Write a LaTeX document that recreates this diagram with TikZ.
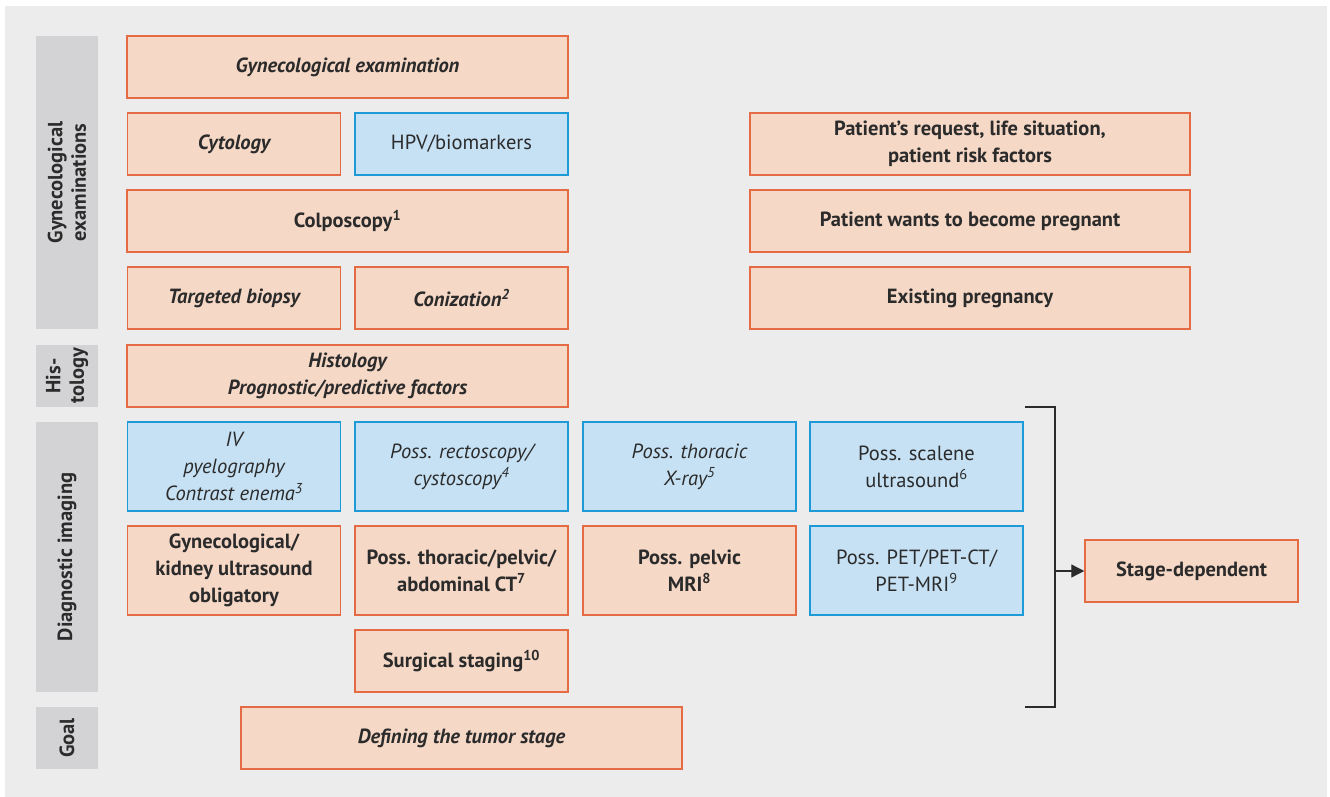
\documentclass[tikz,border=0pt]{standalone}
\usepackage{fontspec}
\setmainfont{PT Sans}
\usetikzlibrary{arrows.meta}
\definecolor{bgc}{HTML}{EBECEB}
\definecolor{sgray}{HTML}{D3D3D5}
\definecolor{ofill}{HTML}{F6D8C6}
\definecolor{oline}{HTML}{E56B44}
\definecolor{bfill}{HTML}{C6E1F4}
\definecolor{bline}{HTML}{1E9BD7}
\definecolor{txt}{HTML}{2B2B2B}
\begin{document}
\begin{tikzpicture}[x=1pt,y=-1pt,
  obox/.style={draw=oline, fill=ofill, line width=1.5pt, text=txt, align=center, inner sep=0pt, font=\fontsize{20.5}{27}\selectfont},
  bbox/.style={obox, draw=bline, fill=bfill},
  side/.style={fill=sgray, text=txt, rotate=90, align=center, inner sep=0pt, minimum height=62pt, font=\bfseries\fontsize{20.5}{23.5}\selectfont},
  wide/.style={minimum width=441pt, minimum height=62pt},
  half/.style={minimum width=213pt, minimum height=62pt},
  tall/.style={minimum width=213pt, minimum height=89pt},
  right/.style={minimum width=440pt, minimum height=62pt},
  brk/.style={draw=txt, line width=1.3pt},
  arr/.style={draw=txt, line width=1.3pt, -{Triangle[length=13pt,width=13pt]}}
]
\useasboundingbox (0,0) rectangle (1330,797);
\fill[bgc] (5,6) rectangle (1327,797);

% sidebar
\node[side, minimum width=293pt] (s1) at (67,182.5) {Gynecological\\examinations};
\node[side, minimum width=62pt] (s2) at (67,376) {His-\\tology};
\node[side, minimum width=270pt] (s3) at (67,557) {Diagnostic imaging};
\node[side, minimum width=62pt] (s4) at (67,738) {Goal};

% gynecological examinations
\node[obox, wide] (gyn) at (347.5,67) {\bfseries\itshape Gynecological examination};
\node[obox, half] (cyt) at (234,144) {\bfseries\itshape Cytology};
\node[bbox, half] (hpv) at (461.5,144) {HPV/biomarkers};
\node[obox, wide] (colpo) at (347.5,221) {\bfseries Colposcopy\textsuperscript{1}};
\node[obox, half] (tb) at (234,298) {\bfseries\itshape Targeted biopsy};
\node[obox, half] (con) at (461.5,298) {\bfseries\itshape Conization\textsuperscript{2}};
\node[obox, wide] (hist) at (347.5,376) {\bfseries\itshape Histology\\\bfseries\itshape Prognostic/predictive factors};

% patient boxes
\node[obox, right] (pr) at (970,144) {\bfseries Patient’s request, life situation,\\\bfseries patient risk factors};
\node[obox, right] (pw) at (970,221) {\bfseries Patient wants to become pregnant};
\node[obox, right] (ep) at (970,298) {\bfseries Existing pregnancy};

% diagnostic imaging
\node[bbox, tall] (iv) at (234,466.5) {\itshape IV\\\itshape pyelography\\\itshape Contrast enema\textsuperscript{3}};
\node[bbox, tall] (rc) at (461.5,466.5) {\itshape Poss. rectoscopy/\\\itshape cystoscopy\textsuperscript{4}};
\node[bbox, tall] (tx) at (689.5,466.5) {\itshape Poss. thoracic\\\itshape X-ray\textsuperscript{5}};
\node[bbox, tall] (ss) at (916.5,466.5) {Poss. scalene\\ultrasound\textsuperscript{6}};
\node[obox, tall] (gk) at (234,570.5) {\bfseries Gynecological/\\\bfseries kidney ultrasound\\\bfseries obligatory};
\node[obox, tall] (ct) at (461.5,570.5) {\bfseries Poss. thoracic/pelvic/\\\bfseries abdominal CT\textsuperscript{7}};
\node[obox, tall] (mri) at (689.5,570.5) {\bfseries Poss. pelvic\\\bfseries MRI\textsuperscript{8}};
\node[bbox, tall] (pet) at (916.5,570.5) {Poss. PET/PET-CT/\\PET-MRI\textsuperscript{9}};
\node[obox, half] (surg) at (461.5,661) {\bfseries Surgical staging\textsuperscript{10}};

% goal
\node[obox, wide] (goal) at (461.5,738) {\bfseries\itshape Defining the tumor stage};

% stage dependent
\node[obox, half] (stage) at (1191.5,571) {\bfseries Stage-dependent};

% bracket
\coordinate (bt) at (1025,407);
\coordinate (btc) at (1055,407);
\coordinate (bbc) at (1055,707);
\coordinate (bb) at (1025,707);
\draw[brk] (bt) -- (btc) -- (bbc) -- (bb);
\draw[arr] (btc |- stage.west) -- (stage.west);
\end{tikzpicture}
\end{document}
